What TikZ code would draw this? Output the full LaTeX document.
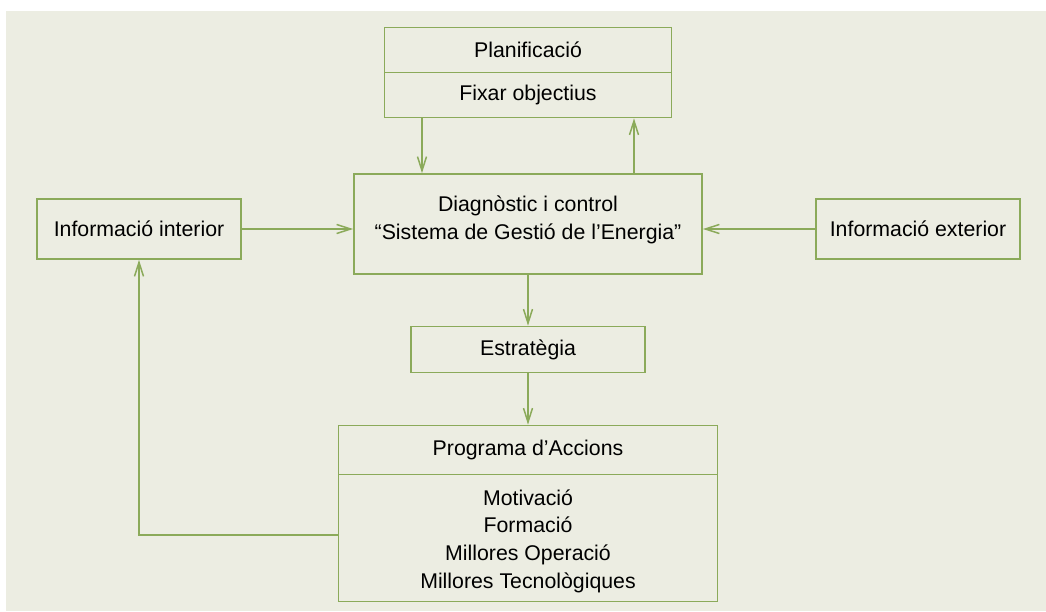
\documentclass[tikz,border=0pt]{standalone}
\usepackage{fontspec}
\setmainfont{Liberation Sans}
\usetikzlibrary{arrows.meta}
\definecolor{paper}{HTML}{ECEDE2}
\definecolor{leaf}{HTML}{8BAA5A}
\begin{document}
\begin{tikzpicture}[x=1pt,y=-1pt,
  box/.style={draw=leaf, line width=1.8pt, fill=paper, inner sep=0pt,
    align=center, text=black, font=\fontsize{21.3}{27.7}\selectfont},
  label/.style={align=center, text=black, font=\fontsize{21.3}{27.7}\selectfont},
  link/.style={draw=leaf, line width=1.5pt,
    -{Straight Barb[length=14pt,width=9pt,line width=1.5pt]}}]
% page and paper
\useasboundingbox (0,0) rectangle (1046,611);
\fill[white] (0,0) rectangle (1046,611);
\fill[paper] (6,11) rectangle (1046,611);

% planning box (two rows)
\node[box, minimum width=287pt, minimum height=45pt] (plan) at (528,50) {Planificació};
\node[box, minimum width=287pt, minimum height=45pt] (goals) at (528,95) {Fixar objectius};

% central diagnosis box, its two lines set slightly above centre
\node[box, minimum width=348pt, minimum height=100pt] (diag) at (528,224) {};
\node[label] (diagtext) at (528,220)
  {Diagnòstic i control\\“Sistema de Gestió de l’Energia”};

% side inputs
\node[box, minimum width=204pt, minimum height=60pt] (inner) at (139,229) {Informació interior};
\node[box, minimum width=204pt, minimum height=60pt] (outer) at (918,229) {Informació exterior};

% strategy
\node[box, minimum width=234pt, minimum height=46pt] (strat) at (528,349.5) {Estratègia};

% action programme (header + list)
\node[box, minimum width=379pt, minimum height=49pt] (prog) at (528,450) {Programa d’Accions};
\node[box, minimum width=379pt, minimum height=127pt] (acts) at (528,538) {};
\node[label] (list) at (528,541)
  {Motivació\\Formació\\Millores Operació\\Millores Tecnològiques};

% connectors
\draw[link] (goals.south -| 422,0) -- (diag.north -| 422,0);
\draw[link] (diag.north -| 634,0) -- (goals.south -| 634,0);
\draw[link] (inner.east) -- (inner.east -| diag.west);
\draw[link] (outer.west) -- (outer.west -| diag.east);
\draw[link] (diag.south -| strat.north) -- (strat.north);
\draw[link] (strat.south) -- (prog.north);
\coordinate (bend) at (inner.south |- 0,535);
\draw[link] (acts.west |- bend) -- (bend) -- (inner.south);
\end{tikzpicture}
\end{document}
